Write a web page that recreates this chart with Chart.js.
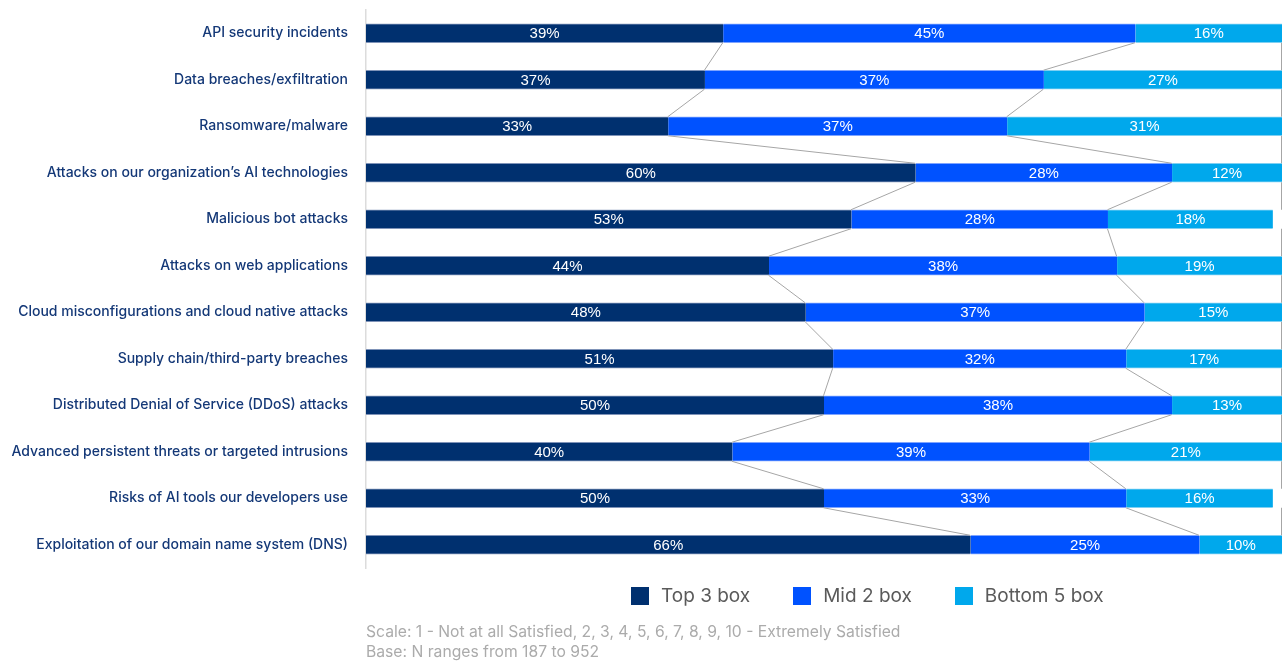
<!DOCTYPE html>
<html>
<head>
<meta charset="utf-8">
<script src="https://cdn.jsdelivr.net/npm/chart.js@4/dist/chart.umd.min.js"></script>
<style>
  html, body { margin: 0; padding: 0; background: #fff; }
  #wrap { position: relative; width: 1283px; height: 661px; }
  #chart { position: absolute; left: 0; top: 0; }
  #legend { position: absolute; left: 631px; top: 584px; display: flex; align-items: center;
            font-family: Inter, "Noto Sans", sans-serif; font-size: 19px; color: #5a5a5a; }
  #legend .item { display: flex; align-items: center; margin-right: 43px; }
  #legend .sw { width: 18px; height: 18px; margin-right: 12px; }
  #note { position: absolute; left: 366px; top: 622px; font-family: Inter, "Noto Sans", sans-serif;
          font-size: 15.7px; line-height: 19.5px; color: #ababab; }
</style>
</head>
<body>
<div id="wrap">
  <canvas id="chart" width="1283" height="661"></canvas>
  <div id="legend"></div>
  <div id="note">Scale: 1 - Not at all Satisfied, 2, 3, 4, 5, 6, 7, 8, 9, 10 - Extremely Satisfied<br>Base: N ranges from 187 to 952</div>
</div>
<script>
const categories = [
  'API security incidents',
  'Data breaches/exfiltration',
  'Ransomware/malware',
  'Attacks on our organization\u2019s AI technologies',
  'Malicious bot attacks',
  'Attacks on web applications',
  'Cloud misconfigurations and cloud native attacks',
  'Supply chain/third-party breaches',
  'Distributed Denial of Service (DDoS) attacks',
  'Advanced persistent threats or targeted intrusions',
  'Risks of AI tools our developers use',
  'Exploitation of our domain name system (DNS)'
];
const top3 = [39, 37, 33, 60, 53, 44, 48, 51, 50, 40, 50, 66];
const mid2 = [45, 37, 37, 28, 28, 38, 37, 32, 38, 39, 33, 25];
const bottom5 = [16, 27, 31, 12, 18, 19, 15, 17, 13, 21, 16, 10];
const seriesNames = ['Top 3 box', 'Mid 2 box', 'Bottom 5 box'];
const seriesColors = ['#00306f', '#0052ff', '#00a8ec'];
const seriesEdges = ['#7f93b8', '#7fa4ff', '#7fd0f2'];

// White percentage labels centred in each segment
const segmentLabels = {
  id: 'segmentLabels',
  afterDatasetsDraw(chart) {
    const ctx = chart.ctx;
    const area = chart.chartArea;
    ctx.save();
    ctx.fillStyle = '#ffffff';
    ctx.font = '15px "Liberation Sans", Arial, sans-serif';
    ctx.textAlign = 'center';
    ctx.textBaseline = 'middle';
    chart.data.datasets.forEach((ds, di) => {
      const meta = chart.getDatasetMeta(di);
      meta.data.forEach((bar, i) => {
        const p = bar.getProps(['x', 'y', 'base'], true);
        const x1 = Math.min(p.x, area.right);
        const x0 = Math.min(p.base, area.right);
        ctx.fillText(ds.data[i] + '%', (x0 + x1) / 2, p.y + 1);
      });
    });
    ctx.restore();
  }
};

// Gray connector lines joining segment boundaries of neighbouring bars;
// the outer edge is the 100% line at the right of the plot
const connectors = {
  id: 'connectors',
  afterDatasetsDraw(chart) {
    const ctx = chart.ctx;
    const xs = chart.scales.x;
    const area = chart.chartArea;
    const n = categories.length;
    ctx.save();
    ctx.strokeStyle = '#a6a6a6';
    ctx.lineWidth = 1;
    const meta0 = chart.getDatasetMeta(0);
    for (let i = 0; i < n - 1; i++) {
      const a = meta0.data[i].getProps(['y', 'height'], true);
      const b = meta0.data[i + 1].getProps(['y', 'height'], true);
      const yA = a.y + a.height / 2;
      const yB = b.y - b.height / 2;
      const cumA = [top3[i], top3[i] + mid2[i], 100];
      const cumB = [top3[i + 1], top3[i + 1] + mid2[i + 1], 100];
      for (let k = 0; k < 3; k++) {
        const xA = Math.min(xs.getPixelForValue(cumA[k]), area.right) - 0.5;
        const xB = Math.min(xs.getPixelForValue(cumB[k]), area.right) - 0.5;
        ctx.beginPath();
        ctx.moveTo(xA, yA);
        ctx.lineTo(xB, yB);
        ctx.stroke();
      }
    }
    ctx.restore();
  }
};

const chart = new Chart(document.getElementById('chart'), {
  type: 'bar',
  data: {
    labels: categories,
    datasets: [top3, mid2, bottom5].map((vals, k) => ({
      label: seriesNames[k],
      data: vals,
      backgroundColor: seriesColors[k],
      borderColor: seriesEdges[k],
      borderWidth: { top: 1, bottom: 1, left: 0, right: 0 },
      borderSkipped: false,
      barThickness: 19
    }))
  },
  options: {
    indexAxis: 'y',
    responsive: false,
    animation: false,
    layout: { padding: { top: 10, right: 1, bottom: 93, left: 0 } },
    plugins: {
      legend: { display: false },
      tooltip: { enabled: false }
    },
    scales: {
      x: {
        stacked: true,
        min: 0,
        max: 100,
        display: false
      },
      y: {
        stacked: true,
        grid: { display: false },
        border: { display: true, color: '#dcdcdc', width: 1.5 },
        ticks: {
          padding: 10,
          color: '#143877',
          font: { family: 'Inter, "Noto Sans", sans-serif', size: 14, weight: '500' }
        },
        afterFit(scale) {
          scale.width = 366;
          scale.paddingTop = 0;
          scale.paddingBottom = 0;
        }
      }
    }
  },
  plugins: [connectors, segmentLabels]
});

// Legend row below the plot
const legend = document.getElementById('legend');
seriesNames.forEach((name, k) => {
  const item = document.createElement('div');
  item.className = 'item';
  const sw = document.createElement('span');
  sw.className = 'sw';
  sw.style.background = seriesColors[k];
  const tx = document.createElement('span');
  tx.textContent = name;
  item.appendChild(sw);
  item.appendChild(tx);
  legend.appendChild(item);
});
</script>
</body>
</html>
